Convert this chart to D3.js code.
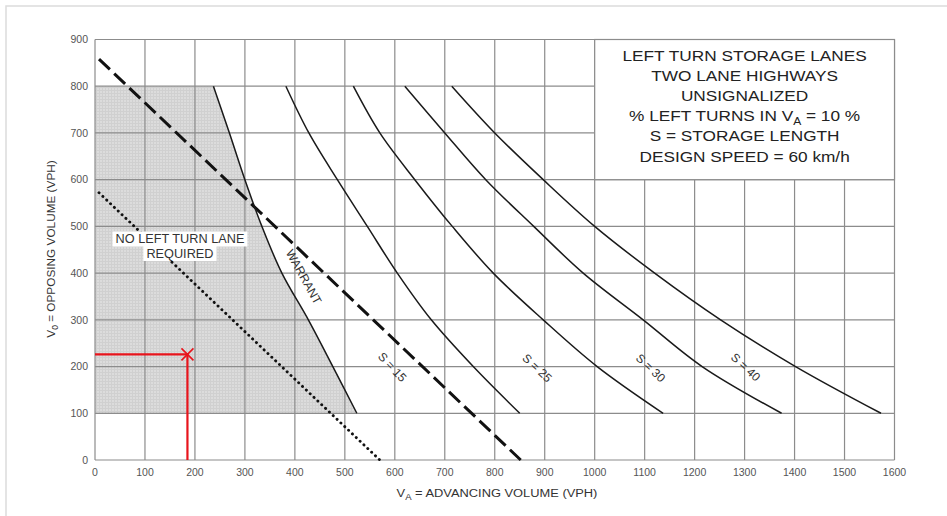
<!DOCTYPE html>
<html>
<head>
<meta charset="utf-8">
<script src="https://cdn.jsdelivr.net/npm/d3@7"></script>
<style>
    body { margin: 0; background: #fff; }
    svg { display: block; font-family: "Liberation Sans", Arial, Helvetica, sans-serif; }
</style>
</head>
<body>
<svg id="chart" width="947" height="516"></svg>
<script>
// ticks
const xTicks = d3.range(0, 1700, 100);
const yTicks = d3.range(0, 1000, 100);

const curveLevels = [800, 700, 600, 500, 400, 300, 200, 100];
// advancing volume of each curve at those levels
const warrantX = [237, 269, 300, 334, 374, 427, 476, 524];
const s15X = [382, 428, 485, 545, 605, 673, 757, 850];
const s25X = [517, 570, 640, 715, 797, 897, 1005, 1137];
const s30X = [620, 700, 782, 878, 977, 1097, 1215, 1374];
const s40X = [714, 800, 897, 1000, 1120, 1252, 1402, 1573];

// straight guide lines [VA, VO]
const dashedLine = [[8, 858], [852, 0]];
const dottedLine = [[8, 572], [570, 0]];

// example point
const examplePoint = [185, 226];

// curve labels (data coords, rotation)
const curveLabels = [
    { text: "WARRANT", x: 418, y: 392, angle: 61 },
    { text: "S = 15", x: 595, y: 199, angle: 47 },
    { text: "S = 25", x: 885, y: 197, angle: 43 },
    { text: "S = 30", x: 1112, y: 197, angle: 43 },
    { text: "S = 40", x: 1302, y: 199, angle: 43 }
];

const noLaneLines = ["NO LEFT TURN LANE", "REQUIRED"];
const noLaneAt = [170, 473];

const svg = d3.select("#chart");

const x = d3.scaleLinear().domain([0, 1600]).range([95, 894.5]);
const y = d3.scaleLinear().domain([0, 900]).range([460, 39.5]);

// outer frame
svg.append("path")
    .attr("d", "M6,516 V6 H947")
    .attr("fill", "none")
    .attr("stroke", "#dcdcdc")
    .attr("stroke-width", 1.5);

// shaded pattern
const defs = svg.append("defs");
const pat = defs.append("pattern")
    .attr("id", "mesh")
    .attr("width", 3).attr("height", 3)
    .attr("patternUnits", "userSpaceOnUse");
pat.append("rect").attr("width", 3).attr("height", 3).attr("fill", "#dcdcdc");
pat.append("path").attr("d", "M0,0.5 H3 M0.5,0 V3").attr("stroke", "#d0d0d0").attr("stroke-width", 1);

const warrantPts = curveLevels.map((v, i) => [warrantX[i], v]);
const lineGen = d3.line()
    .x(d => x(d[0]))
    .y(d => y(d[1]))
    .curve(d3.curveCatmullRom.alpha(0.5));

// shaded "no lane" area: from VA = 0 to the warrant curve, VO 100..800
svg.append("path")
    .attr("d", lineGen(warrantPts) + `L${x(0)},${y(100)}L${x(0)},${y(800)}Z`)
    .attr("fill", "url(#mesh)");

// grid
const grid = svg.append("g").attr("stroke", "#8c8c8c").attr("stroke-width", 1.2);
grid.selectAll(".vx")
    .data(xTicks)
    .enter()
    .append("line")
    .attr("x1", d => x(d)).attr("x2", d => x(d))
    .attr("y1", y(0)).attr("y2", y(900));
grid.selectAll(".hy")
    .data(yTicks)
    .enter()
    .append("line")
    .attr("x1", x(0)).attr("x2", x(1600))
    .attr("y1", d => y(d)).attr("y2", d => y(d));

// note box
const boxX0 = x(1000), boxX1 = x(1600), boxY0 = y(900), boxY1 = y(600);
svg.append("rect")
    .attr("x", boxX0).attr("y", boxY0)
    .attr("width", boxX1 - boxX0).attr("height", boxY1 - boxY0)
    .attr("fill", "#fff")
    .attr("stroke", "#8c8c8c")
    .attr("stroke-width", 1.2);

const bx = (boxX0 + boxX1) / 2;
const boxLines = ["LEFT TURN STORAGE LANES", "TWO LANE HIGHWAYS", "UNSIGNALIZED", null, "S = STORAGE LENGTH", "DESIGN SPEED = 60 km/h"];
boxLines.forEach((t, i) => {
    const ty = boxY0 + 21 + i * 20.2;
    const tt = svg.append("text")
        .attr("transform", `translate(${bx},${ty}) scale(1.15,1)`)
        .attr("text-anchor", "middle")
        .attr("font-size", "15px")
        .attr("fill", "#222");
    if (t) {
        tt.text(t);
    } else {
        tt.append("tspan").text("% LEFT TURNS IN V");
        tt.append("tspan").attr("font-size", "10.5px").attr("dy", 4).text("A");
        tt.append("tspan").attr("dy", -4).text(" = 10 %");
    }
});

// tick labels
svg.append("g").selectAll("text")
    .data(xTicks)
    .enter()
    .append("text")
    .attr("x", d => x(d))
    .attr("y", 476)
    .attr("text-anchor", "middle")
    .attr("font-size", "10.5px")
    .attr("fill", "#555")
    .text(d => d);

svg.append("g").selectAll("text")
    .data(yTicks)
    .enter()
    .append("text")
    .attr("x", 88)
    .attr("y", d => y(d))
    .attr("dy", "0.35em")
    .attr("text-anchor", "end")
    .attr("font-size", "10.5px")
    .attr("fill", "#555")
    .text(d => d);

// axis titles
const xt = svg.append("text")
    .attr("transform", "translate(497,497) scale(1.12,1)")
    .attr("text-anchor", "middle")
    .attr("font-size", "11.5px")
    .attr("fill", "#333");
xt.append("tspan").text("V");
xt.append("tspan").attr("font-size", "8.5px").attr("dy", 3).text("A");
xt.append("tspan").attr("dy", -3).text(" = ADVANCING VOLUME (VPH)");

const yt = svg.append("text")
    .attr("transform", "translate(55,249) rotate(-90)")
    .attr("text-anchor", "middle")
    .attr("font-size", "11.8px")
    .attr("fill", "#333");
yt.append("tspan").text("V");
yt.append("tspan").attr("font-size", "8.5px").attr("dy", 3).text("0");
yt.append("tspan").attr("dy", -3).text(" = OPPOSING VOLUME (VPH)");

// straight guide lines
svg.append("path")
    .datum(dashedLine)
    .attr("d", d3.line().x(d => x(d[0])).y(d => y(d[1])))
    .attr("fill", "none")
    .attr("stroke", "#111")
    .attr("stroke-width", 3)
    .attr("stroke-dasharray", "15,6");

svg.append("path")
    .datum(dottedLine)
    .attr("d", d3.line().x(d => x(d[0])).y(d => y(d[1])))
    .attr("fill", "none")
    .attr("stroke", "#111")
    .attr("stroke-width", 2.9)
    .attr("stroke-linecap", "round")
    .attr("stroke-dasharray", "0.1,5.2");

// curves
[warrantX, s15X, s25X, s30X, s40X].forEach(xs => {
    svg.append("path")
        .datum(curveLevels.map((v, i) => [xs[i], v]))
        .attr("d", lineGen)
        .attr("fill", "none")
        .attr("stroke", "#1a1a1a")
        .attr("stroke-width", 1.5);
});

// curve labels
svg.append("g").selectAll("text")
    .data(curveLabels)
    .enter()
    .append("text")
    .attr("transform", d => `translate(${x(d.x)},${y(d.y)}) rotate(${d.angle})`)
    .attr("text-anchor", "middle")
    .attr("dy", "0.35em")
    .attr("font-size", "12px")
    .attr("fill", "#333")
    .text(d => d.text);

// "no left turn lane required" label with white backing per line
const nl = svg.append("g");
noLaneLines.forEach((t, i) => {
    const cy = y(noLaneAt[1]) + i * 14.5;
    const txt = nl.append("text")
        .attr("transform", `translate(${x(noLaneAt[0])},${cy}) scale(1.06,1)`)
        .attr("dy", "0.36em")
        .attr("text-anchor", "middle")
        .attr("font-size", "12px")
        .attr("fill", "#333")
        .text(t);
    const w = txt.node().getBBox().width * 1.06;
    nl.insert("rect", "text")
        .attr("x", x(noLaneAt[0]) - w / 2 - 3).attr("y", cy - 7.5)
        .attr("width", w + 6).attr("height", 15)
        .attr("fill", "#fff");
});

// example point
const red = svg.append("g").attr("stroke", "#e8141c").attr("fill", "none");
red.append("path")
    .attr("d", `M${x(0)},${y(examplePoint[1])}H${x(examplePoint[0])}V${y(0)}`)
    .attr("stroke-width", 2.2);
const px = x(examplePoint[0]), py = y(examplePoint[1]);
red.append("path")
    .attr("d", `M${px - 6},${py - 6}L${px + 6},${py + 6}M${px - 6},${py + 6}L${px + 6},${py - 6}`)
    .attr("stroke-width", 1.6);
</script>
</body>
</html>
